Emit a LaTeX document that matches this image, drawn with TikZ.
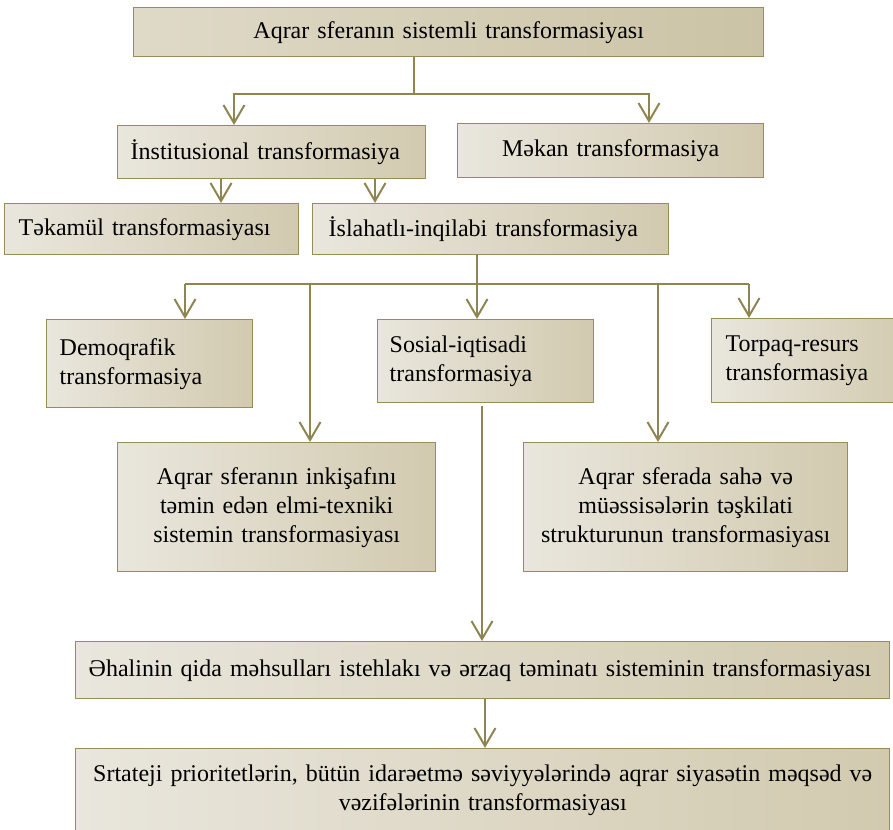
\documentclass[tikz,border=0pt]{standalone}
\usepackage{fontspec}
\setmainfont{Liberation Serif}
\usepackage{xcolor}
\usetikzlibrary{positioning,arrows.meta,calc}
\definecolor{edgeolive}{RGB}{152,141,90}
\definecolor{lineolive}{RGB}{143,133,80}
\definecolor{boxlight}{RGB}{233,230,221}
\definecolor{boxdark}{RGB}{210,202,175}
\definecolor{toplight}{RGB}{223,218,200}
\definecolor{topdark}{RGB}{203,195,165}

\begin{document}
\begin{tikzpicture}[x=0.5pt, y=-0.5pt, >={Straight Barb[length=9pt,width=10.5pt]}]
    \tikzstyle{tbox} = [rectangle, draw=edgeolive, line width=0.7pt, left color=boxlight, right color=boxdark, anchor=north west, inner ysep=0pt, inner xsep=6.5pt, font=\fontsize{12}{14.5}\selectfont]
    \tikzstyle{conn} = [draw=lineolive, line width=1pt]
    \clip (0,0) rectangle (893,829);

    % boxes
    \node [tbox, left color=toplight, right color=topdark, text width=302pt, minimum height=24.5pt, align=center] (sys) at (133,7) {Aqrar sferanın sistemli transformasiyası};
    \node [tbox, text width=141pt, minimum height=26.5pt, align=left] (inst) at (117,125) {İnstitusional transformasiya};
    \node [tbox, text width=140pt, minimum height=27pt, align=center] (mekan) at (457,123) {Məkan transformasiya};
    \node [tbox, inner xsep=7pt, text width=133pt, minimum height=25.5pt, align=left] (tekamul) at (4,203) {Təkamül transformasiyası};
    \node [tbox, inner xsep=8pt, text width=162pt, minimum height=25.5pt, align=left] (islah) at (312,203) {İslahatlı-inqilabi transformasiya};
    \node [tbox, text width=90pt, minimum height=44pt, align=left] (demo) at (46,319) {Demoqrafik\\ transformasiya};
    \node [tbox, inner xsep=6pt, text width=96pt, minimum height=41.5pt, align=left] (sosial) at (377,319) {Sosial-iqtisadi\\ transformasiya};
    \node [tbox, inner xsep=7pt, text width=86pt, minimum height=42pt, align=left] (torpaq) at (711,318) {Torpaq-resurs\\ transformasiya};
    \node [tbox, text width=146pt, minimum height=64.5pt, align=center] (elmi) at (117,442) {Aqrar sferanın inkişafını\\ təmin edən elmi-texniki\\ sistemin transformasiyası};
    \node [tbox, text width=149pt, minimum height=64.5pt, align=center] (teskilat) at (523,442) {Aqrar sferada sahə və\\ müəssisələrin təşkilati\\ strukturunun transformasiyası};
    \node [tbox, text width=394pt, minimum height=28.5pt, align=left] (qida) at (75,641) {Əhalinin qida məhsulları istehlakı və ərzaq təminatı sisteminin transformasiyası};
    \node [tbox, text width=394pt, minimum height=42pt, align=center] (strat) at (75,748) {Srtateji prioritetlərin, bütün idarəetmə səviyyələrində aqrar siyasətin məqsəd və\\ vəzifələrinin transformasiyası};

    % junctions
    \coordinate (t1) at (414,94);
    \coordinate (a1) at (234,94);
    \coordinate (a2) at (649,94);
    \coordinate (b1) at (221,0);
    \coordinate (b2) at (375,0);
    \coordinate (t2) at (477,284);
    \coordinate (c1) at (185,284);
    \coordinate (c2) at (310,284);
    \coordinate (c4) at (658,284);
    \coordinate (c5) at (749,284);
    \coordinate (d1) at (482,406);
    \coordinate (e1) at (485,0);

    \draw [conn] (sys.south -| t1) -- (t1);
    \draw [conn, ->] (t1) -| (a1 |- inst.north);
    \draw [conn, ->] (t1) -| (a2 |- mekan.north);
    \draw [conn, ->] (b1 |- inst.south) -- (b1 |- tekamul.north);
    \draw [conn, ->] (b2 |- inst.south) -- (b2 |- islah.north);
    \draw [conn] (islah.south -| t2) -- (t2);
    \draw [conn] (c1) -- (c5);
    \draw [conn, ->] (c1) -- (c1 |- demo.north);
    \draw [conn, ->] (c2) -- (c2 |- elmi.north);
    \draw [conn, ->] (t2) -- (t2 |- sosial.north);
    \draw [conn, ->] (c4) -- (c4 |- teskilat.north);
    \draw [conn, ->] (c5) -- (c5 |- torpaq.north);
    \draw [conn, ->] (d1) -- (d1 |- qida.north);
    \draw [conn, ->] (e1 |- qida.south) -- (e1 |- strat.north);
\end{tikzpicture}
\end{document}
